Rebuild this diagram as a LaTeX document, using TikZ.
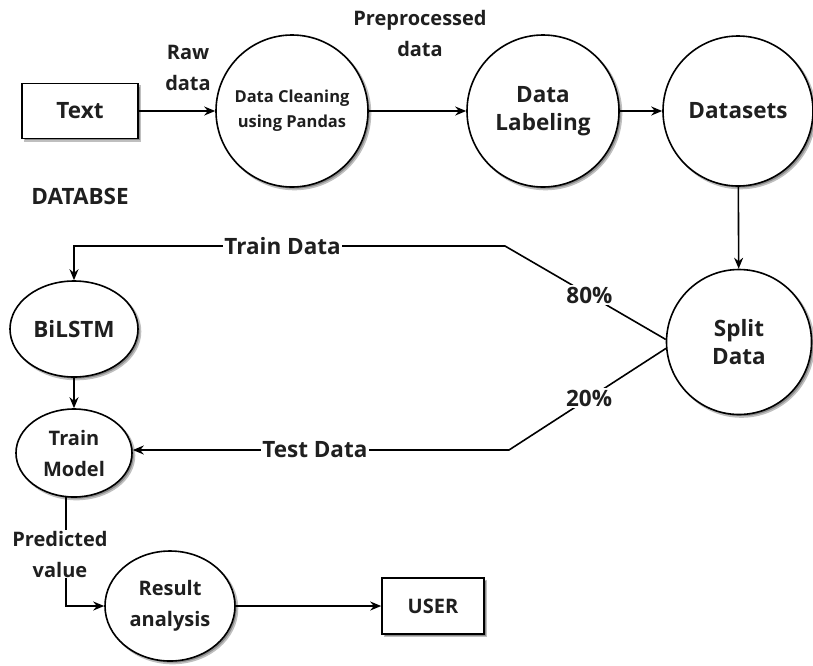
\documentclass[tikz,border=0pt]{standalone}
\usepackage{fontspec}
\setmainfont{Open Sans}[UprightFont={* Bold}]
\usetikzlibrary{arrows.meta,shapes.geometric}

\newcommand{\fsbig}{\fontsize{22.5}{28}\selectfont}
\newcommand{\fsmid}{\fontsize{20}{31}\selectfont}
\newcommand{\fssmall}{\fontsize{16.5}{25}\selectfont}

\tikzset{
  castshadow/.style={preaction={fill=black!45, draw=black!25, line width=1.6pt,
      transform canvas={shift={(2.5pt,-2.5pt)}}}},
  procbox/.style={draw, line width=1.6pt, fill=white, castshadow, rectangle, inner sep=0pt, align=center},
  proc/.style={draw, line width=1.6pt, fill=white, castshadow, circle, inner sep=0pt, align=center},
  oval/.style={draw, line width=1.6pt, fill=white, castshadow, ellipse, inner sep=0pt, align=center},
  flow/.style={line width=1.6pt, -{Stealth[length=11pt, width=9pt]}},
  plain/.style={line width=1.6pt},
  tag/.style={fill=white, inner sep=1.5pt, align=center},
  every node/.style={text=black!88}
}

\begin{document}
\begin{tikzpicture}[x=1pt, y=-1pt]
  \path[use as bounding box] (0,0) rectangle (813,665);

  % top row
  \node[procbox, minimum width=116pt, minimum height=55pt, font=\fsbig] (text) at (80,111) {Text};
  \node[proc, minimum size=152pt, font=\fssmall] (clean) at (292,111) {Data Cleaning\\using Pandas};
  \node[proc, minimum size=152pt, font=\fsbig] (label) at (543,111) {Data\\Labeling};
  \node[proc, minimum size=150pt, font=\fsbig] (sets) at (738,111) {Datasets};

  \node[font=\fsbig] (db) at (80,196) {DATABSE};
  \node[font=\fsmid, align=center] (raw) at (188,68) {Raw\\data};
  \node[font=\fsmid, align=center] (pre) at (420,33) {Preprocessed\\data};

  % split and model stages
  \node[proc, minimum size=145pt, font=\fsbig] (split) at (739,342) {Split\\Data};
  \node[oval, minimum width=128pt, minimum height=96pt, font=\fsbig] (bilstm) at (74,329) {BiLSTM};
  \node[oval, minimum width=116pt, minimum height=88pt, font=\fsmid] (train) at (74,453) {Train\\Model};

  % bottom row
  \node[oval, minimum width=130pt, minimum height=110pt, font=\fsmid] (result) at (170,606) {Result\\analysis};
  \node[procbox, minimum width=102pt, minimum height=56pt, font=\fsmid] (user) at (433,606) {USER};
  \node[font=\fsmid, align=center, inner sep=1pt] (pv) at (60,554) {Predicted\\value};

  \coordinate (tA) at (505,246);
  \coordinate (sA) at (509,450);

  % connectors
  \draw[flow] (text) -- (clean);
  \draw[flow] (clean) -- (label);
  \draw[flow] (label) -- (sets);
  \draw[flow] (sets) -- (split);

  \draw[flow] (split.178) -- node[tag, pos=0.475, font=\fsbig]{80\%} (tA)
        -- node[tag, pos=0.516, font=\fsbig]{Train Data} (tA -| bilstm) -- (bilstm);
  \draw[flow] (split.185) -- node[tag, pos=0.49, font=\fsbig]{20\%} (sA)
        -- node[tag, pos=0.516, font=\fsbig]{Test Data} (sA -| train.east);

  \draw[flow] (bilstm) -- (train);

  \draw[plain] (train.260) -- (train.260 |- pv.north);
  \draw[flow] (train.260 |- pv.south) |- (result);
  \draw[flow] (result) -- (user);
\end{tikzpicture}
\end{document}
